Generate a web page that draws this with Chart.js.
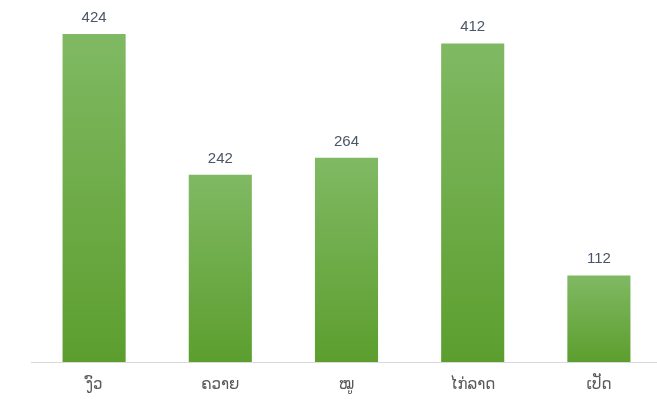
<!DOCTYPE html>
<html><head><meta charset="utf-8">
<script src="https://cdn.jsdelivr.net/npm/chart.js@4/dist/chart.umd.min.js"></script>
<style>html,body{margin:0;padding:0;background:#fff;overflow:hidden;}#wrap{position:absolute;left:0;top:0;width:662px;height:402px;}</style>
</head><body><div id="wrap"><canvas id="c"></canvas></div>
<script>
const categories = ["ງົວ", "ຄວາຍ", "ໝູ", "ໄກ່ລາດ", "ເປັດ"];
const values = [424, 242, 264, 412, 112];

const topLabels = {
  id: 'topLabels',
  afterDatasetsDraw(chart) {
    const ctx = chart.ctx;
    const meta = chart.getDatasetMeta(0);
    ctx.save();
    ctx.font = '15px "Liberation Sans", Arial, sans-serif';
    ctx.fillStyle = '#4a5568';
    ctx.textAlign = 'center';
    ctx.textBaseline = 'alphabetic';
    meta.data.forEach((bar, i) => {
      ctx.fillText(String(values[i]), bar.x, bar.y - 12);
    });
    ctx.restore();
  }
};

new Chart(document.getElementById('c'), {
  type: 'bar',
  data: {
    labels: categories,
    datasets: [{
      data: values,
      backgroundColor(ctx) {
        const chart = ctx.chart;
        const area = chart.chartArea;
        if (!area || ctx.dataIndex === undefined) return '#6aab45';
        const y = chart.scales.y;
        const top = y.getPixelForValue(values[ctx.dataIndex]);
        const bottom = y.getPixelForValue(0);
        const g = chart.ctx.createLinearGradient(0, top, 0, bottom);
        g.addColorStop(0, '#80b963');
        g.addColorStop(1, '#5c9e2e');
        return g;
      },
      borderWidth: 0,
      categoryPercentage: 1,
      barPercentage: 0.5
    }]
  },
  options: {
    responsive: true,
    maintainAspectRatio: false,
    animation: false,
    layout: { padding: { left: 31, right: 0, top: 14, bottom: 0 } },
    plugins: { legend: { display: false }, tooltip: { enabled: false } },
    scales: {
      x: {
        grid: { display: false, drawTicks: false },
        border: { display: true, color: '#d9d9d9', width: 1 },
        ticks: { color: '#595959', font: { family: '"DejaVu Sans"', size: 15 }, padding: 14 },
        afterFit(scale) { scale.height = 40; }
      },
      y: {
        display: false,
        min: 0,
        max: 450
      }
    }
  },
  plugins: [topLabels]
});
</script></body></html>
